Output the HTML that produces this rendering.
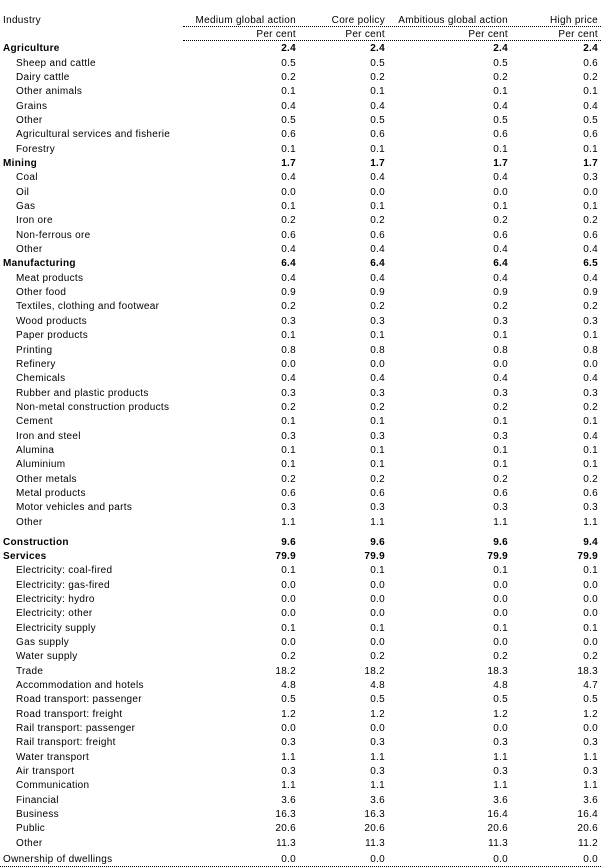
<!DOCTYPE html>
<html><head><meta charset="utf-8"><style>
body{margin:0;background:#fff;width:601px;height:868px;overflow:hidden;font-family:"Liberation Sans",Arial,sans-serif;font-size:10px;color:#000;letter-spacing:0.3px}
#w{position:absolute;left:0;top:0;width:601px}
.r{position:relative;height:14.35px;line-height:14.35px;white-space:nowrap}
.r span{position:absolute;top:0;text-align:right}
.l{left:3px}
.s .l{left:16px}
.b{font-weight:bold}
.c1{right:305px}.c2{right:216px}.c3{right:93px}.c4{right:3px}
.line{position:absolute;left:183px;width:418px;border-top:1px dotted #000;height:0}
</style></head><body>
<div class="line" style="top:26px"></div>
<div class="line" style="top:40px"></div>
<div class="line" style="top:866px;left:0;width:601px"></div>
<div id="w">
<div class="r" style="position:absolute;top:13.5px;width:601px"><span class="l">Industry</span><span class="c1">Medium global action</span><span class="c2">Core policy</span><span class="c3">Ambitious global action</span><span class="c4">High price</span></div>
<div class="r" style="position:absolute;top:27.5px;width:601px"><span class="c1">Per cent</span><span class="c2">Per cent</span><span class="c3">Per cent</span><span class="c4">Per cent</span></div>
<div style="position:absolute;top:42.3px;width:601px" id="rows"></div>
</div>
<script>
var d=[
["b","Agriculture","2.4","2.4","2.4","2.4"],
["s","Sheep and cattle","0.5","0.5","0.5","0.6"],
["s","Dairy cattle","0.2","0.2","0.2","0.2"],
["s","Other animals","0.1","0.1","0.1","0.1"],
["s","Grains","0.4","0.4","0.4","0.4"],
["s","Other","0.5","0.5","0.5","0.5"],
["s","Agricultural services and fisherie","0.6","0.6","0.6","0.6"],
["s","Forestry","0.1","0.1","0.1","0.1"],
["b","Mining","1.7","1.7","1.7","1.7"],
["s","Coal","0.4","0.4","0.4","0.3"],
["s","Oil","0.0","0.0","0.0","0.0"],
["s","Gas","0.1","0.1","0.1","0.1"],
["s","Iron ore","0.2","0.2","0.2","0.2"],
["s","Non-ferrous ore","0.6","0.6","0.6","0.6"],
["s","Other","0.4","0.4","0.4","0.4"],
["b","Manufacturing","6.4","6.4","6.4","6.5"],
["s","Meat products","0.4","0.4","0.4","0.4"],
["s","Other food","0.9","0.9","0.9","0.9"],
["s","Textiles, clothing and footwear","0.2","0.2","0.2","0.2"],
["s","Wood products","0.3","0.3","0.3","0.3"],
["s","Paper products","0.1","0.1","0.1","0.1"],
["s","Printing","0.8","0.8","0.8","0.8"],
["s","Refinery","0.0","0.0","0.0","0.0"],
["s","Chemicals","0.4","0.4","0.4","0.4"],
["s","Rubber and plastic products","0.3","0.3","0.3","0.3"],
["s","Non-metal construction products","0.2","0.2","0.2","0.2"],
["s","Cement","0.1","0.1","0.1","0.1"],
["s","Iron and steel","0.3","0.3","0.3","0.4"],
["s","Alumina","0.1","0.1","0.1","0.1"],
["s","Aluminium","0.1","0.1","0.1","0.1"],
["s","Other metals","0.2","0.2","0.2","0.2"],
["s","Metal products","0.6","0.6","0.6","0.6"],
["s","Motor vehicles and parts","0.3","0.3","0.3","0.3"],
["s","Other","1.1","1.1","1.1","1.1"],
["g",5.6],
["b","Construction","9.6","9.6","9.6","9.4"],
["b","Services","79.9","79.9","79.9","79.9"],
["s","Electricity: coal-fired","0.1","0.1","0.1","0.1"],
["s","Electricity: gas-fired","0.0","0.0","0.0","0.0"],
["s","Electricity: hydro","0.0","0.0","0.0","0.0"],
["s","Electricity: other","0.0","0.0","0.0","0.0"],
["s","Electricity supply","0.1","0.1","0.1","0.1"],
["s","Gas supply","0.0","0.0","0.0","0.0"],
["s","Water supply","0.2","0.2","0.2","0.2"],
["s","Trade","18.2","18.2","18.3","18.3"],
["s","Accommodation and hotels","4.8","4.8","4.8","4.7"],
["s","Road transport: passenger","0.5","0.5","0.5","0.5"],
["s","Road transport: freight","1.2","1.2","1.2","1.2"],
["s","Rail transport: passenger","0.0","0.0","0.0","0.0"],
["s","Rail transport: freight","0.3","0.3","0.3","0.3"],
["s","Water transport","1.1","1.1","1.1","1.1"],
["s","Air transport","0.3","0.3","0.3","0.3"],
["s","Communication","1.1","1.1","1.1","1.1"],
["s","Financial","3.6","3.6","3.6","3.6"],
["s","Business","16.3","16.3","16.4","16.4"],
["s","Public","20.6","20.6","20.6","20.6"],
["s","Other","11.3","11.3","11.3","11.2"],
["g",2],
["n","Ownership of dwellings","0.0","0.0","0.0","0.0"]
];
var h="";
d.forEach(function(x){
 if(x[0]=="g"){h+='<div style="height:'+x[1]+'px"></div>';return;}
 h+='<div class="r '+(x[0]=="b"?"b":x[0]=="s"?"s":"")+'"><span class="l">'+x[1]+'</span><span class="c1">'+x[2]+'</span><span class="c2">'+x[3]+'</span><span class="c3">'+x[4]+'</span><span class="c4">'+x[5]+'</span></div>';
});
document.getElementById("rows").innerHTML=h;
</script>
</body></html>
